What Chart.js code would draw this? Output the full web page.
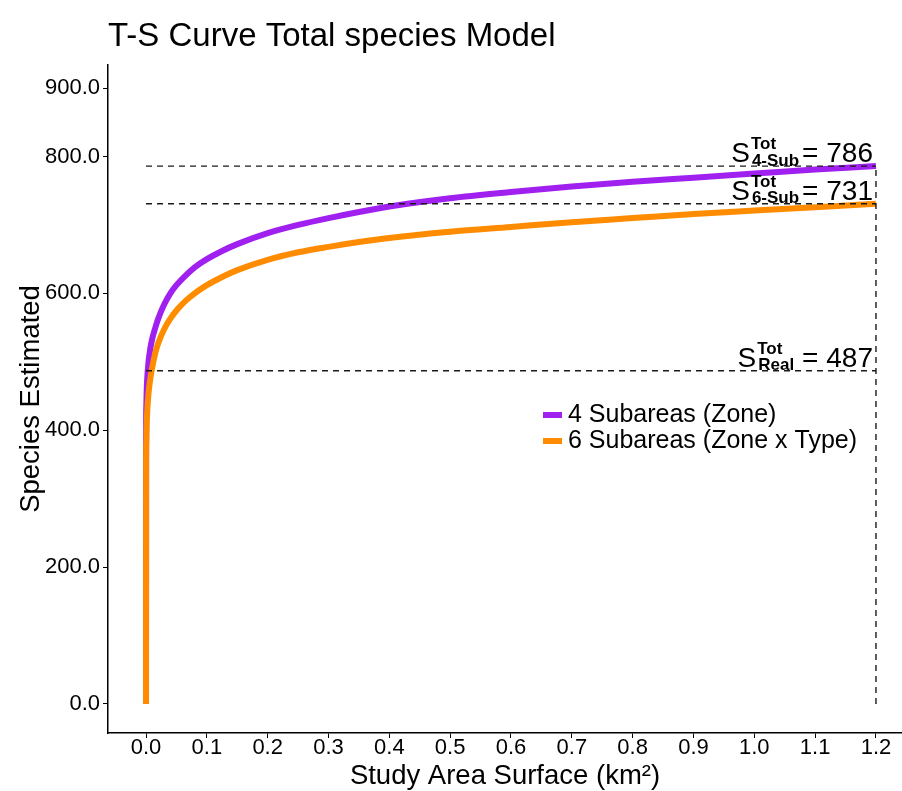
<!DOCTYPE html>
<html>
<head>
<meta charset="utf-8">
<title>T-S Curve Total species Model</title>
<script src="https://cdn.jsdelivr.net/npm/chart.js@4.4.1/dist/chart.umd.min.js"></script>
<style>
  html, body { margin: 0; padding: 0; background: #fff; }
  #chart { display: block; }
</style>
</head>
<body>
<canvas id="chart" width="902" height="791"></canvas>
<script>
// values
var areaKm2 = [0, 0.0002, 0.0005, 0.001, 0.002, 0.004, 0.007, 0.01, 0.015, 0.02, 0.03, 0.04, 0.05, 0.065, 0.08, 0.1, 0.125, 0.15, 0.2, 0.25, 0.3, 0.35, 0.4, 0.5, 0.6, 0.7, 0.8, 0.9, 1.0, 1.1, 1.2];
var species4Sub = [0, 410, 436, 455, 476, 499, 519, 533, 549, 563, 584, 600, 612, 626, 638, 650, 662, 672, 688, 700, 710, 719, 727, 739, 748, 756, 763, 769, 775, 781, 786];
var species6Sub = [0, 355, 382, 405, 428, 453, 475, 491, 512, 527, 548, 563, 575, 589, 600, 612, 624, 634, 649, 660, 668, 675, 681, 690, 697, 704, 710, 716, 721, 726, 731];
var xTicks = [0, 0.1, 0.2, 0.3, 0.4, 0.5, 0.6, 0.7, 0.8, 0.9, 1.0, 1.1, 1.2];
var yTicks = [0, 200, 400, 600, 800, 900];
var refNames = ['4-Sub', '6-Sub', 'Real'];
var refValues = [786, 731, 487];
var refArea = 1.2;
var legendLabels = ['4 Subareas (Zone)', '6 Subareas (Zone x Type)'];

(function() {
  'use strict';

  var family = '"Liberation Sans", Arial, Helvetica, sans-serif';
  var purple = '#A020F0';
  var orange = '#FF8C00';
  var dashColor = '#1a1a1a';

  function toPoints(xs, ys) {
    return xs.map(function(x, i) { return { x: x, y: ys[i] }; });
  }

  function dashedSet(points) {
    return {
      data: points,
      borderColor: dashColor,
      borderWidth: 1.4,
      borderDash: [6, 5],
      pointRadius: 0,
      tension: 0,
      order: 0
    };
  }

  var datasets = [
    {
      label: legendLabels[1],
      data: toPoints(areaKm2, species6Sub),
      borderColor: orange,
      borderWidth: 6,
      pointRadius: 0,
      cubicInterpolationMode: 'monotone',
      borderCapStyle: 'butt',
      order: 1
    },
    {
      label: legendLabels[0],
      data: toPoints(areaKm2, species4Sub),
      borderColor: purple,
      borderWidth: 6,
      pointRadius: 0,
      cubicInterpolationMode: 'monotone',
      borderCapStyle: 'butt',
      order: 2
    }
  ];
  refValues.forEach(function(v) {
    datasets.push(dashedSet([{ x: 0, y: v }, { x: refArea, y: v }]));
  });
  datasets.push(dashedSet([{ x: refArea, y: 0 }, { x: refArea, y: Math.max.apply(null, refValues) }]));

  function drawRefLabel(ctx, xRight, yBase, sub, value) {
    var big = '28px ' + family;
    var small = 'bold 17px ' + family;
    ctx.font = big;
    var wS = ctx.measureText('S').width;
    var eqText = '= ' + value;
    var wEq = ctx.measureText(eqText).width;
    ctx.font = small;
    var wScript = Math.max(ctx.measureText('Tot').width, ctx.measureText(sub).width);
    var gap = sub === 'Real' ? 9 : 4;
    var x = xRight - wEq - gap - wScript - wS - 1;
    ctx.fillStyle = '#000';
    ctx.textBaseline = 'alphabetic';
    ctx.textAlign = 'left';
    ctx.font = big;
    ctx.fillText('S', x, yBase);
    ctx.font = small;
    ctx.fillText('Tot', x + wS + 1, yBase - 13);
    ctx.fillText(sub, x + wS + 2, yBase + 3.5);
    ctx.font = big;
    ctx.fillText(eqText, xRight - wEq, yBase);
  }

  var overlayPlugin = {
    id: 'overlay',
    afterDatasetsDraw: function(chart) {
      var ctx = chart.ctx;
      var xs = chart.scales.x;
      var ys = chart.scales.y;
      ctx.save();
      var xRight = xs.getPixelForValue(refArea) - 3;
      refValues.forEach(function(v, i) {
        drawRefLabel(ctx, xRight, ys.getPixelForValue(v) - 4, refNames[i], v);
      });

      // legend
      var colorsLegend = [purple, orange];
      var lx = chart.chartArea.left + 435;
      var ly = 415;
      ctx.font = '25px ' + family;
      ctx.textBaseline = 'middle';
      legendLabels.forEach(function(label, i) {
        var y = ly + i * 26;
        ctx.strokeStyle = colorsLegend[i];
        ctx.lineWidth = 6;
        ctx.lineCap = 'butt';
        ctx.beginPath();
        ctx.moveTo(lx, y);
        ctx.lineTo(lx + 19, y);
        ctx.stroke();
        ctx.fillStyle = '#000';
        ctx.fillText(label, lx + 25, y);
      });
      ctx.restore();
    }
  };

  new Chart(document.getElementById('chart'), {
    type: 'line',
    data: { datasets: datasets },
    plugins: [overlayPlugin],
    options: {
      responsive: false,
      animation: false,
      devicePixelRatio: 1,
      layout: { padding: 0 },
      plugins: {
        legend: { display: false },
        tooltip: { enabled: false },
        title: {
          display: true,
          text: 'T-S Curve Total species Model',
          align: 'start',
          fullSize: false,
          color: '#000',
          font: { family: family, size: 33, weight: 'normal', lineHeight: 1.2 },
          padding: { top: 17, bottom: 8.4 }
        }
      },
      scales: {
        x: {
          type: 'linear',
          min: -0.0625,
          max: 1.2428,
          afterFit: function(scale) { scale.height = 58; },
          afterBuildTicks: function(scale) {
            scale.ticks = xTicks.map(function(v) { return { value: v }; });
          },
          ticks: {
            color: '#000',
            padding: -3,
            font: { family: family, size: 22 },
            maxRotation: 0,
            callback: function(v) { return Number(v).toFixed(1); }
          },
          grid: { drawOnChartArea: false, drawTicks: true, tickLength: 5, color: '#000', lineWidth: 1 },
          border: { display: true, color: '#000', width: 1.5 },
          title: {
            display: true,
            text: 'Study Area Surface (km²)',
            color: '#000',
            font: { family: family, size: 27.5, lineHeight: 1.05 },
            padding: { top: 0, bottom: 0 }
          }
        },
        y: {
          type: 'linear',
          min: -42.4,
          max: 933.7,
          afterFit: function(scale) { scale.width = 108; },
          afterBuildTicks: function(scale) {
            scale.ticks = yTicks.map(function(v) { return { value: v }; });
          },
          ticks: {
            color: '#000',
            padding: 3,
            font: { family: family, size: 22 },
            callback: function(v) { return Number(v).toFixed(1); }
          },
          grid: { drawOnChartArea: false, drawTicks: true, tickLength: 5, color: '#000', lineWidth: 1 },
          border: { display: true, color: '#000', width: 1.5 },
          title: {
            display: true,
            text: 'Species Estimated',
            color: '#000',
            font: { family: family, size: 27.5, lineHeight: 1.2 },
            padding: { top: 15, bottom: 0 }
          }
        }
      }
    }
  });
})();
</script>
</body>
</html>
